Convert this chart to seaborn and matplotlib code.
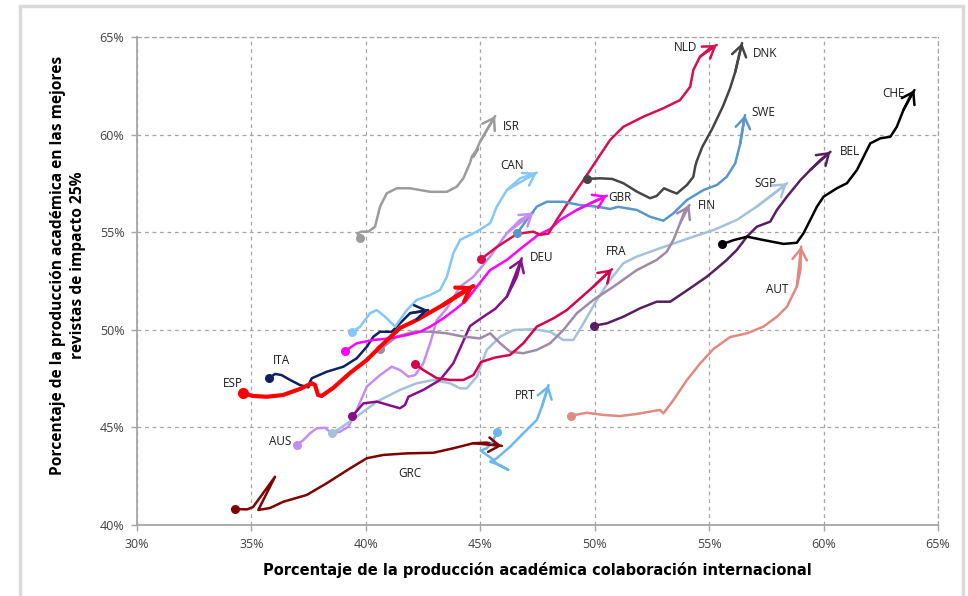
import matplotlib
matplotlib.use("Agg")
import matplotlib.pyplot as plt
from matplotlib.patches import Rectangle
from matplotlib.ticker import FuncFormatter, MultipleLocator
import seaborn as sns

# trajectories: % international collaboration (x) vs % output in top-25% journals (y)
ESP_X = [34.62, 35.07, 35.67, 36.38, 37.12, 37.64, 37.78, 37.91, 38.07, 38.57, 39.31, 40.04, 40.62, 41.49, 42.22, 43.37, 44.25, 44.70]
ESP_Y = [46.75, 46.61, 46.57, 46.66, 46.97, 47.26, 47.17, 46.66, 46.61, 47.02, 47.79, 48.45, 49.13, 50.09, 50.50, 51.27, 51.95, 52.24]

ITA_X = [35.78, 36.03, 36.32, 36.69, 37.12, 37.49, 37.56, 37.64, 38.29, 39.02, 39.60, 40.04, 40.33, 40.62, 41.13, 41.49, 41.93, 42.37, 42.72]
ITA_Y = [47.52, 47.74, 47.68, 47.43, 47.17, 47.05, 47.34, 47.52, 47.85, 48.11, 48.54, 49.13, 49.65, 49.90, 49.90, 50.33, 50.85, 50.93, 51.01]

CAN_X = [39.38, 39.75, 40.18, 40.48, 40.84, 41.28, 41.79, 42.22, 42.81, 43.24, 43.54, 43.82, 44.12, 44.85, 45.43, 45.72, 46.16, 46.74, 47.47]
CAN_Y = [49.87, 50.16, 50.85, 51.01, 50.67, 50.16, 51.01, 51.53, 51.78, 52.04, 52.72, 53.92, 54.61, 55.03, 55.46, 56.31, 57.16, 57.76, 58.05]

ISR_X = [39.75, 39.63, 39.82, 40.11, 40.40, 40.62, 40.91, 41.35, 41.93, 42.81, 43.54, 43.97, 44.26, 44.55, 44.64, 44.90, 44.69, 44.99, 45.34, 45.65]
ISR_Y = [54.69, 54.94, 55.03, 55.03, 55.28, 56.31, 56.99, 57.25, 57.25, 57.07, 57.07, 57.33, 57.76, 58.55, 58.90, 59.26, 58.85, 59.63, 60.35, 60.95]

GRC_X = [34.28, 34.81, 35.07, 36.03, 35.30, 35.81, 36.39, 37.42, 38.29, 39.31, 40.04, 40.77, 41.79, 42.95, 43.82, 44.70, 45.28, 45.94]
GRC_Y = [40.82, 40.80, 40.92, 42.47, 40.77, 40.87, 41.19, 41.54, 42.14, 42.90, 43.42, 43.59, 43.67, 43.70, 43.93, 44.19, 44.22, 44.05]

AUS_X = [36.98, 37.27, 37.56, 37.85, 38.22, 38.51, 38.87, 39.24, 39.60, 40.04, 40.62, 41.13, 41.49, 41.86, 42.15, 42.51, 42.81, 43.10, 43.54, 44.12, 44.70, 45.43, 46.16, 46.74, 47.32]
AUS_Y = [44.10, 44.35, 44.70, 44.95, 44.98, 44.70, 44.78, 45.04, 45.89, 47.09, 47.68, 48.11, 47.94, 47.60, 47.68, 48.28, 49.31, 50.50, 51.10, 52.21, 52.72, 53.75, 54.95, 55.63, 56.00]

SGP_X = [38.51, 38.87, 39.60, 40.48, 41.49, 42.22, 42.95, 43.68, 44.12, 44.41, 44.85, 45.28, 45.87, 46.45, 47.32, 48.05, 48.63, 49.07, 49.51, 50.09, 50.67, 51.25, 51.84, 52.86, 54.31, 55.19, 56.21, 57.08, 57.96, 58.40]
SGP_Y = [44.70, 44.95, 45.55, 46.32, 46.92, 47.26, 47.43, 47.26, 47.00, 47.00, 47.60, 48.97, 49.65, 49.99, 50.03, 49.90, 49.48, 49.48, 50.33, 51.53, 52.55, 53.41, 53.75, 54.18, 54.77, 55.11, 55.63, 56.31, 57.08, 57.51]

DEU_X = [39.41, 39.89, 40.48, 40.98, 41.49, 41.71, 41.86, 42.51, 43.24, 43.82, 44.20, 44.55, 45.12, 45.65, 46.16, 46.60, 46.81]
DEU_Y = [45.58, 46.23, 46.32, 46.15, 45.98, 46.15, 46.57, 46.92, 47.43, 48.28, 49.27, 50.19, 50.66, 51.07, 51.70, 52.72, 53.66]

FIN_X = [40.62, 41.35, 42.08, 42.81, 43.54, 44.26, 44.99, 45.43, 45.87, 46.30, 46.88, 47.47, 48.05, 48.63, 49.22, 49.94, 50.82, 51.84, 52.71, 53.15, 53.44, 53.73, 53.95, 54.14]
FIN_Y = [49.00, 49.65, 49.90, 49.90, 49.82, 49.65, 49.56, 49.82, 49.31, 48.88, 48.80, 48.97, 49.31, 49.99, 50.85, 51.53, 52.21, 53.06, 53.58, 54.00, 54.61, 55.46, 56.14, 56.39]

FRA_X = [42.15, 42.51, 43.10, 43.68, 44.26, 44.70, 45.03, 45.65, 46.30, 46.88, 47.47, 48.20, 48.78, 49.36, 49.94, 50.38, 50.75]
FRA_Y = [48.25, 47.94, 47.52, 47.43, 47.43, 47.68, 48.35, 48.58, 48.71, 49.31, 50.16, 50.59, 51.01, 51.61, 52.21, 52.72, 53.10]

GBR_X = [39.09, 39.60, 40.33, 41.06, 41.79, 42.37, 42.81, 43.39, 43.97, 44.41, 44.85, 45.43, 46.16, 46.83, 47.53, 48.05, 48.49, 49.22, 49.94, 50.53]
GBR_Y = [48.91, 49.31, 49.48, 49.56, 49.73, 49.90, 50.16, 50.59, 51.10, 51.53, 52.21, 53.06, 53.58, 54.22, 54.86, 55.16, 55.63, 56.14, 56.56, 56.87]

NLD_X = [45.02, 45.72, 46.60, 47.32, 47.61, 47.98, 48.34, 48.92, 49.51, 50.09, 50.67, 51.25, 52.13, 53.00, 53.73, 54.17, 54.31, 54.60, 55.03, 55.33]
NLD_Y = [53.61, 54.24, 54.91, 55.03, 54.86, 54.93, 55.63, 56.66, 57.67, 58.70, 59.72, 60.40, 60.92, 61.35, 61.77, 62.45, 63.31, 63.99, 64.42, 64.59]

SWE_X = [46.62, 47.03, 47.47, 47.91, 48.63, 49.36, 50.09, 50.67, 51.02, 51.84, 52.42, 53.00, 53.44, 54.03, 54.75, 55.34, 55.77, 56.14, 56.36, 56.50, 56.57]
SWE_Y = [54.97, 55.63, 56.31, 56.56, 56.56, 56.39, 56.31, 56.19, 56.30, 56.14, 55.79, 55.59, 55.97, 56.65, 57.16, 57.42, 57.84, 58.53, 59.55, 60.58, 61.00]

DNK_X = [49.65, 50.24, 50.76, 51.25, 51.84, 52.42, 52.71, 53.03, 53.30, 53.59, 54.03, 54.31, 54.39, 54.46, 54.70, 55.13, 55.61, 55.92, 56.14, 56.31, 56.44]
DNK_Y = [57.73, 57.76, 57.73, 57.51, 57.08, 56.74, 56.86, 57.25, 57.11, 56.98, 57.42, 57.84, 58.36, 58.65, 59.37, 60.29, 61.47, 62.39, 63.21, 64.08, 64.69]

BEL_X = [49.97, 50.53, 51.25, 51.98, 52.71, 53.30, 53.73, 54.17, 54.90, 55.34, 55.77, 56.21, 56.65, 57.08, 57.67, 57.96, 58.40, 58.99, 59.42, 59.86, 60.30]
BEL_Y = [50.21, 50.33, 50.67, 51.10, 51.44, 51.44, 51.78, 52.13, 52.72, 53.15, 53.58, 54.09, 54.77, 55.28, 55.54, 56.14, 56.82, 57.67, 58.19, 58.70, 59.12]

CHE_X = [55.55, 56.09, 56.66, 57.37, 58.25, 58.83, 59.12, 59.42, 59.71, 60.00, 60.58, 61.02, 61.46, 61.75, 62.04, 62.48, 62.92, 63.20, 63.49, 63.78, 63.97]
CHE_Y = [54.38, 54.60, 54.77, 54.60, 54.40, 54.46, 54.94, 55.63, 56.31, 56.82, 57.25, 57.51, 58.19, 58.87, 59.55, 59.81, 59.89, 60.40, 61.26, 61.94, 62.28]

AUT_X = [48.97, 49.65, 50.38, 51.11, 51.84, 52.57, 52.86, 53.00, 53.44, 54.03, 54.61, 55.19, 55.92, 56.65, 57.37, 57.96, 58.40, 58.83, 58.99, 59.02]
AUT_Y = [45.60, 45.75, 45.64, 45.58, 45.69, 45.84, 45.89, 45.72, 46.40, 47.43, 48.28, 49.02, 49.63, 49.82, 50.16, 50.67, 51.18, 52.21, 53.06, 54.26]

PRT_X = [45.72, 45.55, 45.28, 45.02, 45.43, 45.79, 46.23, 45.87, 45.43, 45.72, 46.30, 46.88, 47.47, 47.69, 47.88, 47.98]
PRT_Y = [44.78, 44.27, 43.93, 43.81, 43.47, 43.07, 42.82, 43.07, 43.24, 43.42, 44.01, 44.70, 45.38, 46.06, 46.75, 47.17]

COUNTRIES = ["ESP", "ITA", "CAN", "ISR", "GRC", "AUS", "SGP", "DEU", "FIN", "FRA",
             "GBR", "NLD", "SWE", "DNK", "BEL", "CHE", "AUT", "PRT"]

series = {
    "ESP": (ESP_X, ESP_Y), "ITA": (ITA_X, ITA_Y), "CAN": (CAN_X, CAN_Y),
    "ISR": (ISR_X, ISR_Y), "GRC": (GRC_X, GRC_Y), "AUS": (AUS_X, AUS_Y),
    "SGP": (SGP_X, SGP_Y), "DEU": (DEU_X, DEU_Y), "FIN": (FIN_X, FIN_Y),
    "FRA": (FRA_X, FRA_Y), "GBR": (GBR_X, GBR_Y), "NLD": (NLD_X, NLD_Y),
    "SWE": (SWE_X, SWE_Y), "DNK": (DNK_X, DNK_Y), "BEL": (BEL_X, BEL_Y),
    "CHE": (CHE_X, CHE_Y), "AUT": (AUT_X, AUT_Y), "PRT": (PRT_X, PRT_Y),
}

colors = {
    "ESP": "#ff0000", "ITA": "#0d2260", "CAN": "#85c8f4", "ISR": "#9c9c9c",
    "GRC": "#7f0000", "AUS": "#c48df0", "SGP": "#a5c2da", "DEU": "#87108a",
    "FIN": "#a08aa8", "FRA": "#d4004e", "GBR": "#ff00ff", "NLD": "#d6104f",
    "SWE": "#5a96c8", "DNK": "#454545", "BEL": "#561f62", "CHE": "#000000",
    "AUT": "#e08a84", "PRT": "#6cb8e8",
}

# where the country codes sit (data coords)
label_pos = {
    "NLD": (53.95, 64.44), "DNK": (57.45, 64.13), "ISR": (46.35, 60.44),
    "CHE": (63.04, 62.13), "SWE": (57.36, 61.11), "CAN": (46.39, 58.44),
    "BEL": (61.16, 59.11), "SGP": (57.45, 57.47), "GBR": (51.11, 56.80),
    "FIN": (54.91, 56.39), "DEU": (47.66, 53.68), "FRA": (50.94, 53.99),
    "AUT": (57.97, 52.04), "ITA": (36.29, 48.45), "ESP": (34.20, 47.27),
    "PRT": (46.96, 46.61), "AUS": (36.25, 44.30), "GRC": (41.93, 42.66),
}

sns.set_style("white")
plt.rcParams["font.family"] = ["Open Sans", "DejaVu Sans"]

fig = plt.figure(figsize=(9.68, 5.96), dpi=100)
ax = fig.add_axes([137 / 968, 1 - 525 / 596, (938 - 137) / 968, (525 - 37) / 596])

# light frame around the whole chart
fig.patches.append(Rectangle((20 / 968, -0.02), (963 - 20) / 968, 1.02 - 6 / 596,
                             transform=fig.transFigure, fill=False,
                             ec="#d9d9d9", lw=2.5, zorder=0))

for c in COUNTRIES:
    xs, ys = series[c]
    col = colors[c]
    lw = 3.0 if c == "ESP" else 1.8
    sns.lineplot(x=xs, y=ys, sort=False, estimator=None, color=col, linewidth=lw,
                 ax=ax, solid_joinstyle="round", solid_capstyle="round",
                 zorder=5 if c == "ESP" else 3)
    ax.plot(xs[0], ys[0], "o", color=col, ms=7 if c == "ESP" else 5.5, zorder=4)
    # head direction taken over the last two segments
    ax.annotate("", xy=(xs[-1], ys[-1]), xytext=(xs[-3], ys[-3]),
                arrowprops=dict(arrowstyle="->,head_length=0.6,head_width=0.4",
                                color=col, lw=lw, mutation_scale=13 if c != "ESP" else 15,
                                shrinkA=0, shrinkB=0),
                zorder=5)
    lx, ly = label_pos[c]
    ax.text(lx, ly, c, fontsize=8.5, color="#1a1a1a", ha="center", va="center",
            zorder=6)

ax.set_xlim(30, 65)
ax.set_ylim(40, 65)
ax.xaxis.set_major_locator(MultipleLocator(5))
ax.yaxis.set_major_locator(MultipleLocator(5))
pct = FuncFormatter(lambda v, p: f"{v:.0f}%")
ax.xaxis.set_major_formatter(pct)
ax.yaxis.set_major_formatter(pct)

ax.grid(True, color="#a6a6a6", linestyle=(0, (3, 3)), linewidth=0.9)
for s in ["left", "bottom"]:
    ax.spines[s].set_color("#a6a6a6")
    ax.spines[s].set_linewidth(1.3)
for s in ["top", "right"]:
    ax.spines[s].set_color("#a6a6a6")
    ax.spines[s].set_linestyle((0, (3, 3)))
    ax.spines[s].set_linewidth(0.9)

ax.tick_params(axis="both", which="major", direction="out", length=4, width=1,
               color="#a6a6a6", labelsize=9, labelcolor="#404040", pad=5)
ax.tick_params(left=True, bottom=True)

fig.text(537 / 968, 1 - 570 / 596,
         "Porcentaje de la producción académica colaboración internacional",
         fontsize=10.5, fontweight="bold", color="#000000", ha="center", va="center",
         family=["Liberation Sans Narrow", "DejaVu Sans"])
fig.text(68 / 968, 1 - 265 / 596,
         "Porcentaje de la producción académica en las mejores\nrevistas de impacto 25%",
         fontsize=11.2, fontweight="bold", color="#000000", ha="center", va="center",
         rotation=90, linespacing=1.25, multialignment="center")

fig.savefig("out.png", dpi=100, facecolor="white")
